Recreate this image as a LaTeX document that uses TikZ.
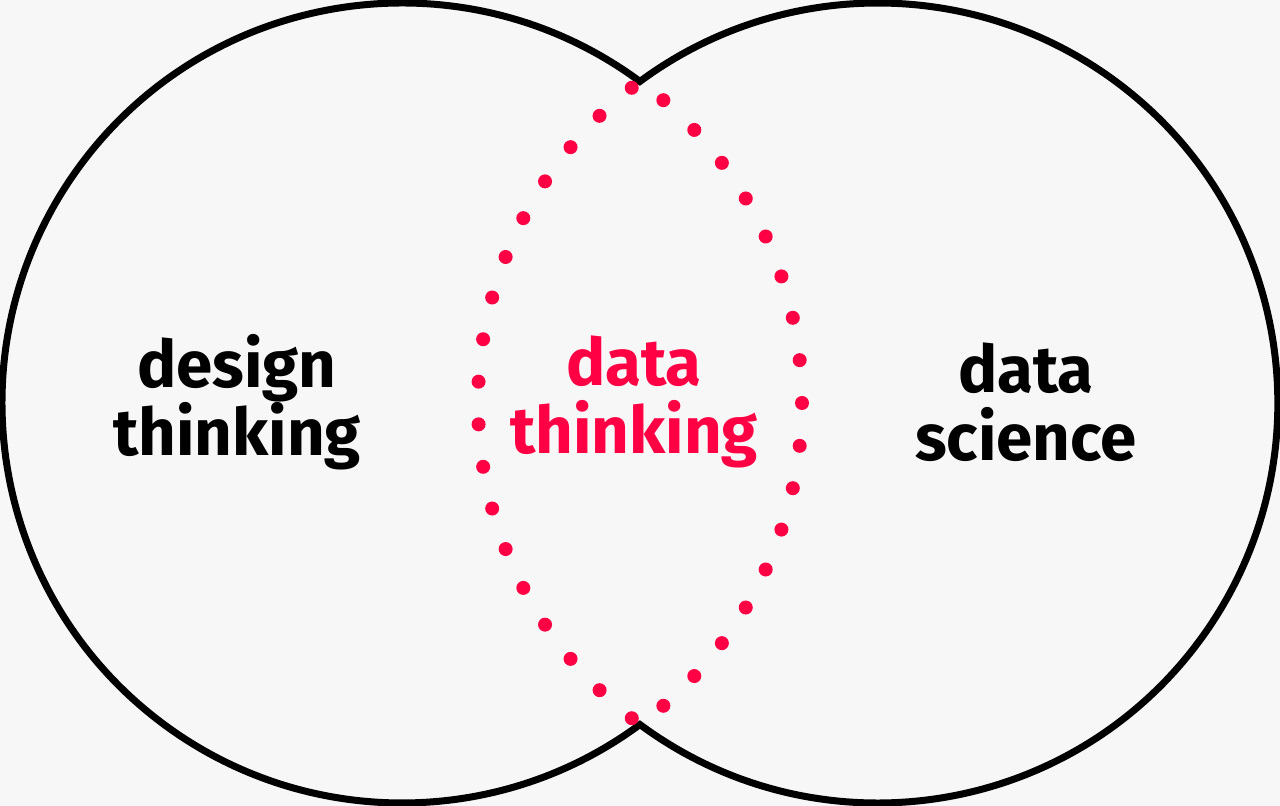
\documentclass[tikz,border=0pt]{standalone}
\usepackage{fontspec}
\setmainfont{Fira Sans}
\definecolor{bgcol}{HTML}{F7F7F7}
\definecolor{accent}{HTML}{FF0044}
\begin{document}
\begin{tikzpicture}[x=1pt,y=1pt,
  outline/.style={draw=black, line width=7pt, line join=miter},
  lensdot/.style={fill=accent},
  label/.style={align=center, font=\fontsize{65.5}{68}\selectfont\bfseries, inner sep=0pt}]
  % canvas
  \fill[bgcol] (0,0) rectangle (1280,806);
  \useasboundingbox (0,0) rectangle (1280,806);
  % circle centres
  \coordinate (cl) at (402,403);
  \coordinate (cr) at (878,403);
  % outer boundary of the union of both circles
  \draw[outline] (cl) ++(53.5:400) arc[start angle=53.5, end angle=306.5, radius=400]
    arc[start angle=233.5, end angle=486.5, radius=400] -- cycle;
  % dotted lens: left half (arc of the right circle)
  \foreach \k in {0,...,17}
    \fill[lensdot] (cr) ++(128+\k*6.118:400) circle (7);
  % dotted lens: right half (arc of the left circle)
  \foreach \k in {0,...,16}
    \fill[lensdot] (cl) ++(49.2-\k*6.15:400) circle (7);
  % labels
  \node[label] (design) at (237,404) {design\\thinking};
  \node[label, text=accent] (datathink) at (634,404) {data\\thinking};
  \node[label] (datasci) at (1026,404) {data\\science};
\end{tikzpicture}
\end{document}
